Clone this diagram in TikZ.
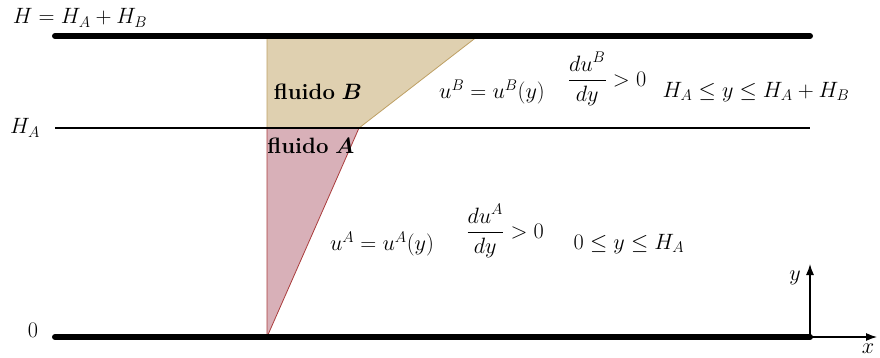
\documentclass[tikz,border=0pt]{standalone}
\usepackage{amsmath}
\usetikzlibrary{arrows.meta}
\definecolor{fillA}{RGB}{216,176,184}
\definecolor{edgeA}{RGB}{170,60,60}
\definecolor{fillB}{RGB}{223,208,176}
\definecolor{edgeB}{RGB}{190,160,100}
\tikzset{
  wall/.style={line width=6pt,line cap=round},
  iface/.style={line width=1.2pt},
  lbl/.style={inner sep=0pt,font=\fontsize{20.74}{25}\selectfont,scale=1.07},
  axis/.style={line width=1.2pt,-{Latex[length=11pt,width=8pt]}},
}
\begin{document}
\begin{tikzpicture}[x=1pt,y=-1pt]
\useasboundingbox (0,0) rectangle (880,358);
% fluid regions
\fill[fillB] (267,128) -- (267,36) -- (478,36) -- (359,128) -- cycle;
\draw[edgeB,line width=0.8pt] (267,128) -- (267,36) (478,36) -- (359,128);
\fill[fillA] (267,337) -- (267,128) -- (359,128) -- cycle;
\draw[edgeA,line width=0.8pt] (267,128) -- (267,337) -- (359,128);
% walls and interface
\coordinate (tl) at (55,36); \coordinate (tr) at (810,36);
\coordinate (ml) at (55,128); \coordinate (mr) at (810,128);
\coordinate (bl) at (55,337); \coordinate (o) at (810,337);
\coordinate (xe) at (877,337); \coordinate (ye) at (810,264);
\draw[iface] (ml) -- (mr);
\draw[wall] (tl) -- (tr);
\draw[wall] (bl) -- (o);
\draw[axis] (o) -- (xe);
\draw[axis] (o) -- (ye);
% labels
\node[lbl] (lH) at (80,18) {$H=H_A+H_B$};
\node[lbl] (lHA) at (25,128) {$H_A$};
\node[lbl] (l0) at (33,330) {$0$};
\node[lbl] (lx) at (868,349) {$x$};
\node[lbl] (ly) at (795,278) {$y$};
\node[lbl] (fB) at (318,92) {\textbf{fluido} $\boldsymbol{B}$};
\node[lbl] (fA) at (311,146) {\textbf{fluido} $\boldsymbol{A}$};
\node[lbl] (uB) at (492,92) {$u^B=u^B(y)$};
\node[lbl] (dB) at (607,79) {$\dfrac{du^B}{dy}>0$};
\node[lbl] (rB) at (756,92) {$H_A\le y\le H_A+H_B$};
\node[lbl] (uA) at (382,244) {$u^A=u^A(y)$};
\node[lbl] (dA) at (505,231) {$\dfrac{du^A}{dy}>0$};
\node[lbl] (rA) at (629,244) {$0\le y\le H_A$};
\end{tikzpicture}
\end{document}
